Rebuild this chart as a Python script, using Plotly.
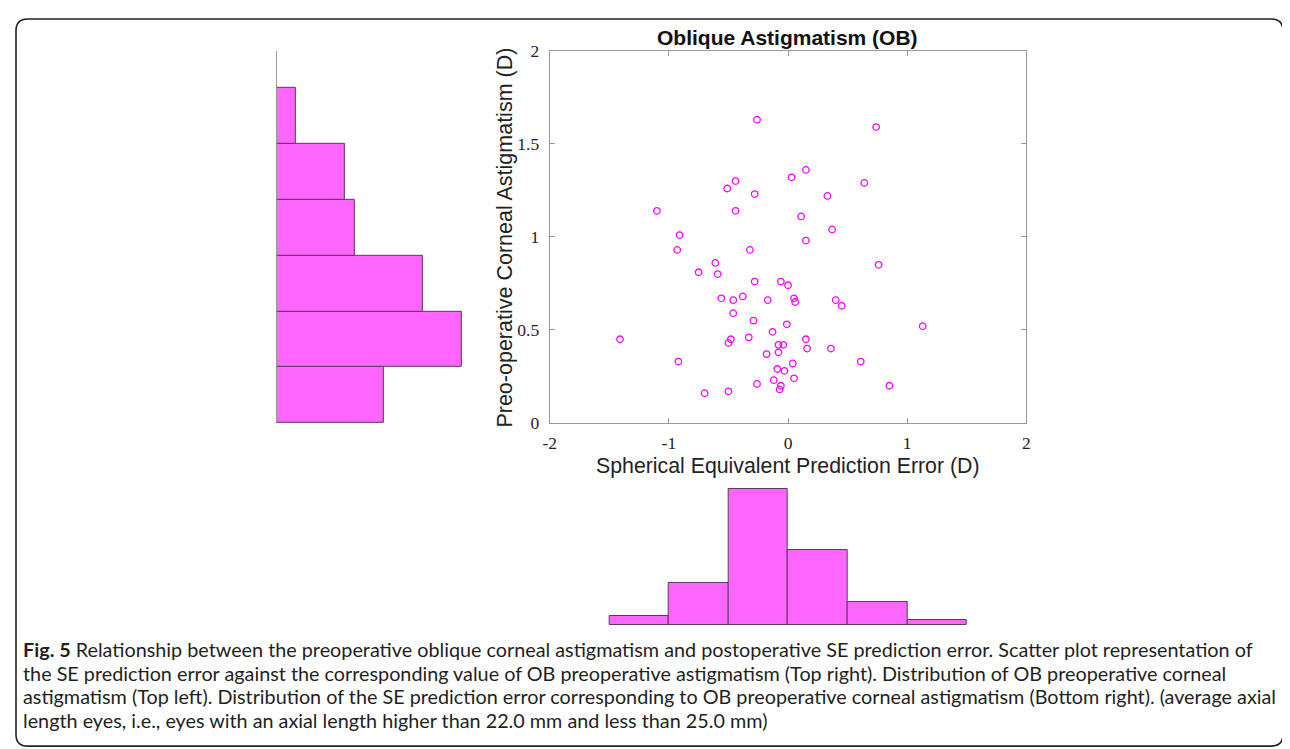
import plotly.graph_objects as go

# ---------------- data ----------------
se_error = [-0.26, 0.03, -0.44, -0.51, -0.28, -1.10, -0.44, -0.91, -0.93, -0.32,
            -0.61, -0.75, -0.59, -0.28, -0.06, 0.00, -0.56, -0.46, -0.38, -0.17,
            -0.46, -0.29, -0.01, -1.41, -0.48, -0.50, -0.33, -0.13, -0.08, -0.04,
            -0.08, -0.18, -0.92, -0.09, -0.03, -0.26, -0.12, -0.06, -0.07, -0.70,
            -0.50, 0.74, 0.15, 0.64, 0.33, 0.11, 0.37, 0.15, 0.76, 0.05,
            0.06, 0.40, 0.45, 1.13, 0.15, 0.16, 0.36, 0.04, 0.61, 0.05, 0.85]
astig = [1.63, 1.32, 1.30, 1.26, 1.23, 1.14, 1.14, 1.01, 0.93, 0.93,
         0.86, 0.81, 0.80, 0.76, 0.76, 0.74, 0.67, 0.66, 0.68, 0.66,
         0.59, 0.55, 0.53, 0.45, 0.45, 0.43, 0.46, 0.49, 0.42, 0.42,
         0.38, 0.37, 0.33, 0.29, 0.28, 0.21, 0.23, 0.20, 0.18, 0.16,
         0.17, 1.59, 1.36, 1.29, 1.22, 1.11, 1.04, 0.98, 0.85, 0.67,
         0.65, 0.66, 0.63, 0.52, 0.45, 0.40, 0.40, 0.32, 0.33, 0.24, 0.20]

# histogram of astigmatism (bin edges 0..1.8, width 0.3)
astig_bin_centers = [0.15, 0.45, 0.75, 1.05, 1.35, 1.65]
astig_counts = [11, 19, 15, 8, 7, 2]
# histogram of SE error (bin edges -1.5..1.5, width 0.5)
se_bin_centers = [-1.25, -0.75, -0.25, 0.25, 0.75, 1.25]
se_counts = [2, 9, 29, 16, 5, 1]

x_ticks = [-2, -1, 0, 1, 2]
x_ticklabels = ["-2", "-1", "0", "1", "2"]
y_ticks = [0, 0.5, 1, 1.5, 2]
y_ticklabels = ["0", "0.5", "1", "1.5", "2"]

title_text = "Oblique Astigmatism (OB)"
xlabel = "Spherical Equivalent Prediction Error (D)"
ylabel = "Preo-operative Corneal Astigmatism (D)"
caption_lines = [
    "<b>Fig. 5</b> Relationship between the preoperative oblique corneal astigmatism and postoperative SE prediction error. Scatter plot representation of",
    "the SE prediction error against the corresponding value of OB preoperative astigmatism (Top right). Distribution of OB preoperative corneal",
    "astigmatism (Top left). Distribution of the SE prediction error corresponding to OB preoperative corneal astigmatism (Bottom right). (average axial",
    "length eyes, i.e., eyes with an axial length higher than 22.0 mm and less than 25.0 mm)",
]

# ---------------- layout helpers ----------------
W, H = 1280, 752
SX, OX = 0.992, 13.0     # observed page mapping (screen = OX + SX * figure px)
SY, OY = 0.973, 17.2

def FX(x):
    return max(0.0, (x - OX) / SX)
def FY(y):
    return max(0.0, (y - OY) / SY)
def PX(x):
    return FX(x) / W
def PY(y):
    return 1 - FY(y) / H

BAR_FILL = "#ff66ff"
BAR_EDGE = "#5a3a5a"
AX_GRAY = "#999999"
SERIF = "Liberation Serif, DejaVu Serif, serif"
SANS = "Liberation Sans, Arial, sans-serif"

fig = go.Figure()

fig.add_trace(go.Scatter(
    x=se_error, y=astig, mode="markers",
    marker=dict(symbol="circle-open", size=6.5, color="#ff00ff", line=dict(width=1.3, color="#ff00ff")),
    xaxis="x", yaxis="y", showlegend=False, hoverinfo="x+y",
))

fig.add_trace(go.Bar(
    y=astig_bin_centers, x=astig_counts, orientation="h", width=0.3,
    marker=dict(color=BAR_FILL, line=dict(color=BAR_EDGE, width=1)),
    xaxis="x2", yaxis="y2", showlegend=False,
))

fig.add_trace(go.Bar(
    x=se_bin_centers, y=se_counts, width=0.5,
    marker=dict(color=BAR_FILL, line=dict(color=BAR_EDGE, width=1)),
    xaxis="x3", yaxis="y3", showlegend=False,
))

tickfont = dict(family=SERIF, size=17.5, color="#222222")

annotations = [
    dict(text=f"<b>{title_text}</b>", x=PX(786), y=PY(37), xref="paper", yref="paper",
         showarrow=False, font=dict(family=SANS, size=21, color="#111111"), xanchor="center", yanchor="middle"),
    dict(text=xlabel, x=PX(786), y=PY(465), xref="paper", yref="paper",
         showarrow=False, font=dict(family=SANS, size=21.3, color="#222222"), xanchor="center", yanchor="middle"),
    dict(text=ylabel, x=PX(503), y=PY(237), xref="paper", yref="paper", textangle=-90,
         showarrow=False, font=dict(family=SANS, size=21.5, color="#222222"), xanchor="center", yanchor="middle"),
]
for i, line in enumerate(caption_lines):
    annotations.append(dict(
        text=line, x=PX(19), y=PY(648 + i * 23.7), xref="paper", yref="paper",
        showarrow=False, xanchor="left", yanchor="middle", align="left",
        font=dict(family="Lato, sans-serif", size=19.8, color="#231f20"),
    ))

# rounded frame (kept inside the figure area)
fx0, fy0, fx1, fy1, r = 1.0, 1.0, W - 1.0, FY(745), 12
def p(x, y):
    return f"{x / W} {1 - y / H}"
path = (f"M {p(fx0 + r, fy0)} L {p(fx1 - r, fy0)} Q {p(fx1, fy0)} {p(fx1, fy0 + r)} "
        f"L {p(fx1, fy1 - r)} Q {p(fx1, fy1)} {p(fx1 - r, fy1)} "
        f"L {p(fx0 + r, fy1)} Q {p(fx0, fy1)} {p(fx0, fy1 - r)} "
        f"L {p(fx0, fy0 + r)} Q {p(fx0, fy0)} {p(fx0 + r, fy0)} Z")

fig.update_layout(
    width=W, height=H,
    margin=dict(l=0, r=0, t=0, b=0),
    paper_bgcolor="white", plot_bgcolor="rgba(0,0,0,0)",
    bargap=0,
    xaxis=dict(domain=[PX(548), PX(1025)], range=[-2, 2], anchor="y",
               tickvals=x_ticks, ticktext=x_ticklabels, ticks="inside", ticklen=5, tickcolor=AX_GRAY,
               showline=True, linecolor=AX_GRAY, linewidth=1, mirror="ticks",
               showgrid=False, zeroline=False, tickfont=tickfont, ticklabelstandoff=4),
    yaxis=dict(domain=[PY(422), PY(50)], range=[0, 2], anchor="x",
               tickvals=y_ticks, ticktext=y_ticklabels, ticks="inside", ticklen=5, tickcolor=AX_GRAY,
               showline=True, linecolor=AX_GRAY, linewidth=1, mirror="ticks",
               showgrid=False, zeroline=False, tickfont=tickfont, ticklabelstandoff=6),
    xaxis2=dict(domain=[PX(275), PX(275 + 9.72 * 20)], range=[0, 20], anchor="y2",
                visible=False, showgrid=False, zeroline=False),
    yaxis2=dict(domain=[PY(422), PY(50)], range=[0, 2], anchor="x2",
                showline=True, linecolor=AX_GRAY, linewidth=1, ticks="", showticklabels=False,
                showgrid=False, zeroline=False),
    xaxis3=dict(domain=[PX(548), PX(1025)], range=[-2, 2], anchor="y3",
                visible=False, showgrid=False, zeroline=False),
    yaxis3=dict(domain=[PY(624), PY(624 - 4.7 * 30)], range=[0, 30], anchor="x3",
                visible=False, showgrid=False, zeroline=False),
    annotations=annotations,
    shapes=[dict(type="path", path=path, xref="paper", yref="paper",
                 line=dict(color="#222222", width=1.6), fillcolor="rgba(0,0,0,0)", layer="above")],
)

fig.write_html("out.html")
